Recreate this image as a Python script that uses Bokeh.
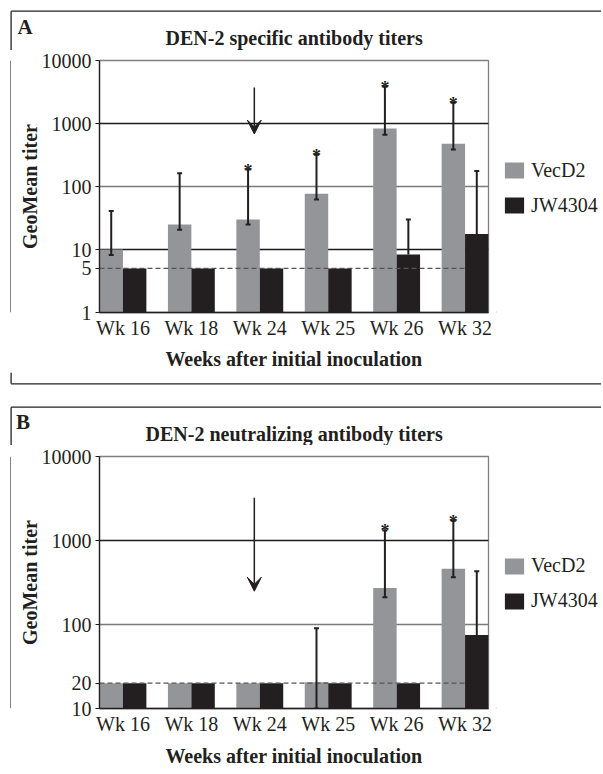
import math
from bokeh.plotting import figure
from bokeh.models import (Range1d, FixedTicker, ColumnDataSource, Legend, LegendItem,
                          Arrow, VeeHead, PrintfTickFormatter, Grid)
from bokeh.layouts import column, row
from bokeh.core.properties import value
from bokeh.embed import file_html
from bokeh.resources import INLINE

nan = float("nan")

weeks = ["Wk 16", "Wk 18", "Wk 24", "Wk 25", "Wk 26", "Wk 32"]
series = ["VecD2", "JW4304"]

# Panel A: DEN-2 specific antibody titers
a_vecd2 = [10, 25, 30, 77, 830, 475]
a_vecd2_low = [8.2, 20.5, 25, 62, 665, 385]
a_vecd2_high = [41, 163, 186, 320, 3830, 2130]
a_jw4304 = [5, 5, 5, 5, 8.3, 17.7]
a_jw4304_high = [nan, nan, nan, nan, 30, 176]
a_star = [False, False, True, True, True, True]
a_ticks = [1, 5, 10, 100, 1000, 10000]
a_limit = 5
a_arrow = (1.92, 3730, 680)   # week position, start titer, end titer

# Panel B: DEN-2 neutralizing antibody titers
b_vecd2 = [20, 20, 20, 20.5, 272, 462]
b_vecd2_low = [nan, nan, nan, 10, 211, 364]
b_vecd2_high = [nan, nan, nan, 90, 1318, 1714]
b_jw4304 = [20, 20, 20, 20, 20, 75]
b_jw4304_high = [nan, nan, nan, nan, nan, 429]
b_star = [False, False, False, False, True, True]
b_ticks = [10, 20, 100, 1000, 10000]
b_limit = 20
b_arrow = (1.92, 3235, 249)

GRAY = "#939598"
BLACK = "#231f20"
BOX = "#222222"
FONT = "Liberation Serif"
BAR_W = 0.3426
W = 601          # full panel width
STRIP = 11       # left strip carrying the panel box's left edge
CHART_W = 485
LEG_W = W - STRIP - CHART_W
BOX_X = 10.6
FRAME_CX = 293.6


def pixel_fig(width, height, flip=True):
    f = figure(width=width, height=height, output_backend="svg", toolbar_location=None,
               x_range=Range1d(0, width),
               y_range=Range1d(height, 0) if flip else Range1d(0, height), min_border=0,
               x_axis_location=None, y_axis_location=None)
    f.outline_line_color = None
    f.background_fill_color = None
    f.border_fill_color = None
    f.grid.visible = False
    return f


def header(letter, title, height, box_y, letter_x, letter_y, title_y):
    h = pixel_fig(W, height)
    h.segment(x0=[BOX_X, BOX_X], y0=[box_y, box_y], x1=[W, BOX_X], y1=[box_y, height],
              line_color=BOX, line_width=1.3)
    h.text(x=[letter_x], y=[letter_y], text=[letter], text_align="left",
           text_baseline="alphabetic", text_font=value(FONT), text_font_size="21px",
           text_font_style="bold", text_color=BLACK)
    h.text(x=[FRAME_CX], y=[title_y], text=[title], text_align="center",
           text_baseline="middle", text_font=value(FONT), text_font_size="20px",
           text_font_style="bold", text_color=BLACK)
    return h


def strip(height):
    s = pixel_fig(STRIP, height)
    s.segment(x0=[BOX_X], y0=[0], x1=[BOX_X], y1=[height], line_color=BOX, line_width=1.3)
    return s


def footer(height, box_y):
    f = pixel_fig(W, height)
    f.segment(x0=[BOX_X, BOX_X], y0=[0, box_y], x1=[BOX_X, W], y1=[box_y, box_y],
              line_color=BOX, line_width=1.3)
    return f


def legend_fig(height, legend_y):
    lf = pixel_fig(LEG_W, height, flip=False)
    # off-screen proxies so the legend can draw its colour swatches
    proxy = ColumnDataSource(dict(x=[-100], top=[1]))
    r1 = lf.vbar(x="x", top="top", width=1, source=proxy, fill_color=GRAY, line_color=None)
    r2 = lf.vbar(x="x", top="top", width=1, source=proxy, fill_color=BLACK, line_color=None)
    legend = Legend(items=[LegendItem(label=series[0], renderers=[r1]),
                           LegendItem(label=series[1], renderers=[r2])],
                    location=(6, legend_y), orientation="vertical", padding=0, margin=0,
                    spacing=12, glyph_width=24, glyph_height=20, label_height=23,
                    label_standoff=5, border_line_alpha=0, background_fill_alpha=0,
                    label_text_font=FONT, label_text_font_size="20px",
                    label_text_color=BLACK)
    lf.add_layout(legend, "center")
    return lf


def chart(vec, vec_lo, vec_hi, jw, jw_hi, star, ticks, limit, arrow,
          height, border_top, border_bottom, xlabel_standoff):
    ymin, ymax = ticks[0], ticks[-1]
    p = figure(width=CHART_W, height=height, output_backend="svg", toolbar_location=None,
               y_axis_type="log", x_range=Range1d(-BAR_W, len(weeks) - 1 + BAR_W),
               y_range=Range1d(ymin, ymax),
               min_border_left=88, min_border_right=8, min_border_top=border_top,
               min_border_bottom=border_bottom)
    p.background_fill_color = "white"
    p.border_fill_color = None
    p.outline_line_color = "#808080"
    p.outline_line_width = 1.3

    idx = list(range(len(weeks)))
    xv = [i - BAR_W / 2 for i in idx]
    xj = [i + BAR_W / 2 for i in idx]
    src = ColumnDataSource(dict(xv=xv, xj=xj, vec=vec, jw=jw))

    p.vbar(x="xv", width=BAR_W, top="vec", bottom=ymin, source=src,
           fill_color=GRAY, line_color=None)
    p.vbar(x="xj", width=BAR_W, top="jw", bottom=ymin, source=src,
           fill_color=BLACK, line_color=None)

    # detection limit dashed line
    p.segment(x0=[-BAR_W], y0=[limit], x1=[len(weeks) - 1], y1=[limit],
              line_color="#555555", line_width=1.3, line_dash="5 3")

    # gridlines: 100 drawn in grey, other decades in black
    p.xgrid.grid_line_color = None
    p.ygrid.ticker = FixedTicker(ticks=[t for t in ticks
                                        if t not in (limit, ymin, ymax, 100)])
    p.ygrid.grid_line_color = "#1a1a1a"
    p.ygrid.grid_line_width = 1.3
    p.add_layout(Grid(dimension=1, ticker=FixedTicker(ticks=[100]),
                      grid_line_color="#7a7a7a", grid_line_width=1.4))

    # error bars
    keep = [i for i in idx if not math.isnan(vec_hi[i])]
    vsrc = ColumnDataSource(dict(x=[xv[i] for i in keep], lo=[vec_lo[i] for i in keep],
                                 hi=[vec_hi[i] for i in keep]))
    p.segment(x0="x", y0="lo", x1="x", y1="hi", source=vsrc, line_color=BLACK, line_width=2)
    p.scatter(x="x", y="lo", source=vsrc, marker="dash", size=5, line_color=BLACK, line_width=2)
    p.scatter(x="x", y="hi", source=vsrc, marker="dash", size=5, line_color=BLACK, line_width=2)
    keepj = [i for i in idx if not math.isnan(jw_hi[i])]
    jsrc = ColumnDataSource(dict(x=[xj[i] for i in keepj], lo=[jw[i] for i in keepj],
                                 hi=[jw_hi[i] for i in keepj]))
    p.segment(x0="x", y0="lo", x1="x", y1="hi", source=jsrc, line_color=BLACK, line_width=2)
    p.scatter(x="x", y="hi", source=jsrc, marker="dash", size=5, line_color=BLACK, line_width=2)

    # significance stars
    ssrc = ColumnDataSource(dict(x=[xv[i] for i in idx if star[i]],
                                 y=[vec_hi[i] for i in idx if star[i]]))
    p.text(x="x", y="y", text=value("*"), source=ssrc, text_align="center",
           text_baseline="alphabetic", y_offset=1, text_font=value(FONT),
           text_font_size="18px", text_font_style="bold", text_color=BLACK)

    # booster arrow
    p.add_layout(Arrow(end=VeeHead(size=14, fill_color=BLACK, line_color=BLACK),
                       x_start=arrow[0], y_start=arrow[1], x_end=arrow[0], y_end=arrow[2],
                       line_color=BLACK, line_width=1.5))

    # axes
    p.yaxis.ticker = FixedTicker(ticks=ticks)
    p.yaxis.formatter = PrintfTickFormatter(format="%d")
    p.yaxis.minor_tick_line_color = None
    p.yaxis.major_tick_in = 0
    p.yaxis.major_tick_out = 4
    p.yaxis.major_label_standoff = 4
    p.yaxis.axis_line_color = BLACK
    p.yaxis.axis_line_width = 1.3
    p.yaxis.major_tick_line_color = BLACK
    p.yaxis.axis_label = "GeoMean titer"
    p.yaxis.axis_label_standoff = -2

    p.xaxis.ticker = FixedTicker(ticks=idx)
    p.xaxis.major_label_overrides = {i: w for i, w in enumerate(weeks)}
    p.xaxis.major_tick_line_color = None
    p.xaxis.minor_tick_line_color = None
    p.xaxis.major_tick_in = 0
    p.xaxis.major_tick_out = 0
    p.xaxis.major_label_standoff = 4
    p.xaxis.axis_line_color = BLACK
    p.xaxis.axis_line_width = 1.3
    p.xaxis.axis_label = "Weeks after initial inoculation"
    p.xaxis.axis_label_standoff = xlabel_standoff

    for ax in (p.xaxis[0], p.yaxis[0]):
        ax.major_label_text_font = FONT
        ax.major_label_text_font_size = "20px"
        ax.major_label_text_color = BLACK
        ax.axis_label_text_font = FONT
        ax.axis_label_text_font_size = "20px"
        ax.axis_label_text_font_style = "bold"
        ax.axis_label_text_color = BLACK
    return p


hA = header("A", "DEN-2 specific antibody titers", 50, 10.7, 17, 26, 37.7)
cA = chart(a_vecd2, a_vecd2_low, a_vecd2_high, a_jw4304, a_jw4304_high, a_star,
           a_ticks, a_limit, a_arrow, height=322, border_top=10, border_bottom=60,
           xlabel_standoff=6)
lA = legend_fig(322, 95.5)
fA = footer(23, 11.3)
hB = header("B", "DEN-2 neutralizing antibody titers", 50, 11.7, 15.4, 26, 38.3)
cB = chart(b_vecd2, b_vecd2_low, b_vecd2_high, b_jw4304, b_jw4304_high, b_star,
           b_ticks, b_limit, b_arrow, height=327, border_top=11, border_bottom=64,
           xlabel_standoff=7)
lB = legend_fig(327, 96)

layout = column(hA, row(strip(322), cA, lA), fA, hB, row(strip(327), cB, lB))
open("out.html", "w").write(file_html(layout, INLINE))
